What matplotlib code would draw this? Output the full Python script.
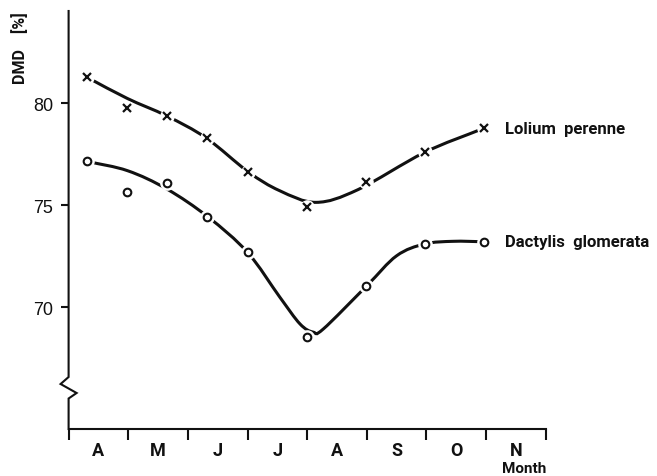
import matplotlib
matplotlib.use("Agg")
import matplotlib.pyplot as plt
from matplotlib.path import Path
from matplotlib.patches import PathPatch
from matplotlib.lines import Line2D
import numpy as np

# --- data -------------------------------------------------------------
# sampling dates in months after 1 April, DMD in %
sample_month = [0.31, 0.98, 1.65, 2.32, 3.01, 3.99, 4.98, 5.97, 6.96]
lolium_dmd = [81.26, 79.74, 79.36, 78.28, 76.63, 74.92, 76.11, 77.58, 78.76]
dactylis_dmd = [77.14, 75.65, 76.06, 74.41, 72.68, 68.54, 71.04, 73.09, 73.20]

# hand-fitted trend curves (knots in month / DMD %)
lolium_fit_month = [0.31, 0.98, 1.65, 2.31, 3.01, 3.54, 4.15, 4.85, 5.97, 6.96]
lolium_fit_dmd = [81.26, 80.23, 79.36, 78.28, 76.63, 75.70, 75.13, 75.75, 77.58, 78.76]
dactylis_fit_month = [0.31, 0.99, 1.65, 2.34, 3.00, 3.54, 3.88, 4.10, 4.27, 5.00, 5.50, 5.97, 6.45, 6.96]
dactylis_fit_dmd = [77.14, 76.68, 75.78, 74.41, 72.68, 70.49, 69.17, 68.77, 68.92, 71.04, 72.51, 73.09, 73.22, 73.20]

month_labels = ["A", "M", "J", "J", "A", "S", "O", "N"]
y_ticks = [70, 75, 80]
species = ["Lolium  perenne", "Dactylis  glomerata"]

# --- figure -------------------------------------------------------------
W, H = 657, 477
fig = plt.figure(figsize=(W / 100, H / 100), dpi=100)
fig.patch.set_facecolor("white")

x0, x1, ytop, ybot = 68.6, 545.7, 12, 430
ax = fig.add_axes([x0 / W, (H - ybot) / H, (x1 - x0) / W, (ybot - ytop) / H])
ax.set_xlim(0, len(month_labels))
ax.set_ylim(64.02, 84.51)

ink = "#111111"
lw_axis = 1.5


def smooth_path(xs, ys):
    """Catmull-Rom curve through the knots, expressed as cubic Bezier segments."""
    pts = np.column_stack([xs, ys]).astype(float)
    ext = np.vstack([2 * pts[0] - pts[1], pts, 2 * pts[-1] - pts[-2]])
    verts = [tuple(pts[0])]
    codes = [Path.MOVETO]
    for i in range(1, len(ext) - 2):
        p0, p1, p2, p3 = ext[i - 1], ext[i], ext[i + 1], ext[i + 2]
        c1 = p1 + (p2 - p0) / 6.0
        c2 = p2 - (p3 - p1) / 6.0
        verts += [tuple(c1), tuple(c2), tuple(p2)]
        codes += [Path.CURVE4] * 3
    return Path(verts, codes)


for fx, fy in [(lolium_fit_month, lolium_fit_dmd), (dactylis_fit_month, dactylis_fit_dmd)]:
    ax.add_patch(PathPatch(smooth_path(fx, fy), facecolor="none", edgecolor=ink,
                           lw=2.2, capstyle="round", zorder=2))

# white halos leave small gaps in the curves around each symbol
for vals in (lolium_dmd, dactylis_dmd):
    ax.plot(sample_month, vals, ls="none", marker="o", ms=9.5, mfc="white",
            mec="white", zorder=3)

ax.plot(sample_month, lolium_dmd, ls="none", marker="x", ms=5.5, mew=1.6,
        mec=ink, zorder=4)
ax.plot(sample_month, dactylis_dmd, ls="none", marker="o", ms=5.5, mew=1.5,
        mec=ink, mfc="white", zorder=4)

# species names beside the last sample
for name, vals in zip(species, (lolium_dmd, dactylis_dmd)):
    ax.text(sample_month[-1] + 0.35, vals[-1], name, fontsize=12,
            family="Roboto", weight="bold", color=ink, va="center", ha="left")

# --- axes ---------------------------------------------------------------
for s in ("top", "right", "left"):
    ax.spines[s].set_visible(False)
ax.spines["bottom"].set_linewidth(lw_axis)
ax.spines["bottom"].set_color(ink)

ax.set_xticks(range(len(month_labels) + 1))
ax.set_xticklabels([])
ax.set_xticks(np.arange(len(month_labels)) + 0.5, minor=True)
ax.set_xticklabels(month_labels, minor=True, fontsize=13, family="Roboto",
                   weight="bold", color=ink)
ax.tick_params(axis="x", which="major", direction="out", length=8, width=lw_axis, color=ink)
ax.tick_params(axis="x", which="minor", length=0, pad=9)

ax.set_yticks(y_ticks)
ax.set_yticklabels([str(v) for v in y_ticks], fontsize=13, family="Liberation Sans",
                   color=ink)
ax.tick_params(axis="y", direction="out", length=6, width=lw_axis, color=ink, pad=5)

# left axis drawn by hand so it can carry the scale-break zigzag
px_x = 1.0 / (x1 - x0)
px_y = 1.0 / (ybot - ytop)
def ay(ypix):
    return (ybot - ypix) * px_y
brk_x = [0, 0, -8 * px_x, 8 * px_x, 0, 0]
brk_y = [1, ay(378), ay(385), ay(394), ay(399.5), 0]
ax.add_line(Line2D(brk_x, brk_y, transform=ax.transAxes, color=ink, lw=lw_axis,
                   clip_on=False, solid_joinstyle="miter"))

fig.text(19.5 / W, 1 - 48 / H, "DMD    [%]", rotation=90, fontsize=11.5, family="Roboto",
         weight="bold", color=ink, ha="center", va="center")
fig.text(524 / W, 1 - 469 / H, "Month", fontsize=11, family="Roboto",
         weight="bold", color=ink, ha="center", va="center")

fig.savefig("out.png", dpi=100, facecolor="white")
